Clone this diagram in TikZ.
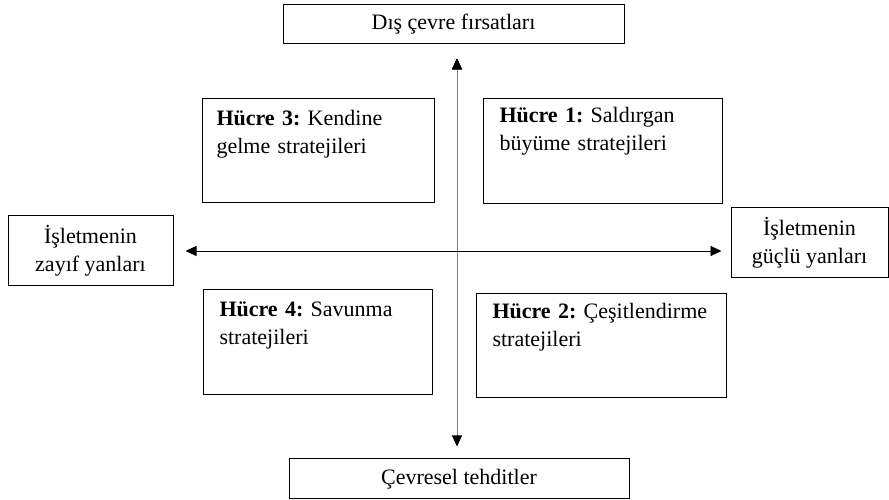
\documentclass[tikz,border=0pt]{standalone}
\usepackage{fontspec}
\setmainfont{Liberation Serif}
\usetikzlibrary{arrows.meta,positioning}

\begin{document}
\frenchspacing
\begin{tikzpicture}[
            x = 1pt, y = 1pt, % pixel-like units
            >= {Triangle[length=11pt,width=10pt,color=black]}, % arrow head style
            line width = 1pt % line style
        ]

        \tikzstyle{side}=[
            draw = black,
            inner sep = 0pt,
            align = center,
            font = \fontsize{22}{27.5}\selectfont
        ]
        \tikzstyle{cell}=[
            draw = black,
            inner sep = 0pt,
            anchor = north west
        ]
        \tikzstyle{celltext}=[
            anchor = base west,
            inner sep = 0pt,
            text width = 235pt,
            align = left,
            font = \fontsize{22}{27.5}\selectfont
        ]

        \useasboundingbox (0,0) rectangle (889,500);

        \node[side, minimum width=341pt, minimum height=39pt] (opp) at (453.5,475.5) {Dış çevre fırsatları};
        \node[side, minimum width=340pt, minimum height=40pt] (thr) at (459,21) {Çevresel tehditler};
        \node[side, minimum width=165pt, minimum height=70pt] (wk) at (90.5,249) {İşletmenin\\zayıf yanları};
        \node[side, minimum width=157pt, minimum height=70pt] (st) at (809.5,257) {İşletmenin\\güçlü yanları};

        \node[cell, minimum width=232pt, minimum height=104pt] (3) at (202,402) {};
        \node[cell, minimum width=239pt, minimum height=105pt] (1) at (483,402) {};
        \node[cell, minimum width=229pt, minimum height=105pt] (4) at (203,211) {};
        \node[cell, minimum width=250pt, minimum height=104pt] (2) at (476,207) {};

        \node[celltext] (t3) at ([xshift=14pt,yshift=-28pt]3.north west) {\textbf{Hücre 3:} Kendine\\gelme stratejileri};
        \node[celltext] (t1) at ([xshift=16pt,yshift=-25pt]1.north west) {\textbf{Hücre 1:} Saldırgan\\büyüme stratejileri};
        \node[celltext] (t4) at ([xshift=16pt,yshift=-28pt]4.north west) {\textbf{Hücre 4:} Savunma\\stratejileri};
        \node[celltext] (t2) at ([xshift=16pt,yshift=-26pt]2.north west) {\textbf{Hücre 2:} Çeşitlendirme\\stratejileri};

        \coordinate (o) at (457,249);

        \path[<->, draw=gray, line width=0.8pt] ([yshift=-14pt]opp.south -| o) edge ([yshift=12pt]thr.north -| o);
        \path[<->, line width=0.8pt] ([xshift=12pt]wk.east |- o) edge ([xshift=-9pt]st.west |- o);

    \end{tikzpicture}
\end{document}
